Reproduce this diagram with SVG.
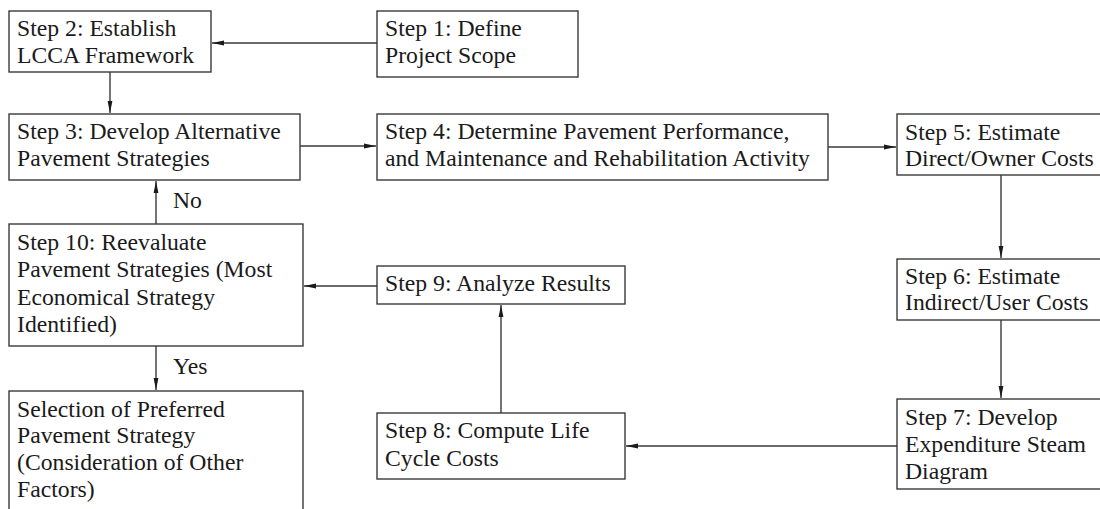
<svg xmlns="http://www.w3.org/2000/svg" width="1100" height="509" viewBox="0 0 1100 509">
<style>
.box{fill:#fff;stroke:#3a3a3a;stroke-width:1.4}
.t{font-family:"Liberation Serif","Times New Roman",Times,"DejaVu Serif",serif;font-size:23.7px;fill:#1a1a1a}
.c{stroke:#3a3a3a;stroke-width:1.4;fill:none;marker-end:url(#ah)}
</style>
<defs>
<marker id="ah" markerWidth="12" markerHeight="6" refX="12" refY="3" orient="auto" markerUnits="userSpaceOnUse">
<path d="M0,0.6 L12,3 L0,5.4 z" fill="#1a1a1a"/>
</marker>
</defs>
<rect width="1100" height="509" fill="#fff"/>
<g id="connectors">
<line class="c" x1="377" y1="43" x2="212" y2="43"/>
<line class="c" x1="110" y1="72" x2="110" y2="113"/>
<line class="c" x1="300" y1="146" x2="376" y2="146"/>
<line class="c" x1="828" y1="147" x2="896" y2="147"/>
<line class="c" x1="1001" y1="175" x2="1001" y2="258"/>
<line class="c" x1="1001" y1="320" x2="1001" y2="398"/>
<line class="c" x1="897" y1="446" x2="626" y2="446"/>
<line class="c" x1="501" y1="413" x2="501" y2="305"/>
<line class="c" x1="377" y1="286" x2="304" y2="286"/>
<line class="c" x1="156" y1="224" x2="156" y2="181"/>
<line class="c" x1="156" y1="346" x2="156" y2="390"/>
<text class="t" x="173" y="208">No</text>
<text class="t" x="173" y="374">Yes</text>
</g>
<g id="step1"><rect class="box" x="377" y="11" width="201" height="66"/>
<text class="t" x="385" y="36">Step 1: Define</text><text class="t" x="385" y="63">Project Scope</text></g>
<g id="step2"><rect class="box" x="9" y="11" width="202" height="61"/>
<text class="t" x="17" y="36">Step 2: Establish</text><text class="t" x="17" y="63">LCCA Framework</text></g>
<g id="step3"><rect class="box" x="9" y="114" width="291" height="66"/>
<text class="t" x="17" y="139">Step 3: Develop Alternative</text><text class="t" x="17" y="166">Pavement Strategies</text></g>
<g id="step4"><rect class="box" x="377" y="114" width="451" height="66"/>
<text class="t" x="385" y="139">Step 4: Determine Pavement Performance,</text><text class="t" x="385" y="166">and Maintenance and Rehabilitation Activity</text></g>
<g id="step5"><rect class="box" x="897" y="114" width="210" height="61"/>
<text class="t" x="905" y="140">Step 5: Estimate</text><text class="t" x="905" y="166">Direct/Owner Costs</text></g>
<g id="step6"><rect class="box" x="897" y="259" width="210" height="61"/>
<text class="t" x="905" y="284">Step 6: Estimate</text><text class="t" x="905" y="310">Indirect/User Costs</text></g>
<g id="step7"><rect class="box" x="897" y="399" width="210" height="90"/>
<text class="t" x="905" y="425">Step 7: Develop</text><text class="t" x="905" y="452">Expenditure Steam</text><text class="t" x="905" y="479">Diagram</text></g>
<g id="step8"><rect class="box" x="377" y="413" width="248" height="66"/>
<text class="t" x="385" y="438">Step 8: Compute Life</text><text class="t" x="385" y="466">Cycle Costs</text></g>
<g id="step9"><rect class="box" x="377" y="266" width="248" height="38"/>
<text class="t" x="385" y="291">Step 9: Analyze Results</text></g>
<g id="step10"><rect class="box" x="9" y="224" width="294" height="122"/>
<text class="t" x="17" y="250">Step 10: Reevaluate</text><text class="t" x="17" y="277">Pavement Strategies (Most</text><text class="t" x="17" y="305">Economical Strategy</text><text class="t" x="17" y="332">Identified)</text></g>
<g id="selection"><rect class="box" x="9" y="391" width="294" height="130"/>
<text class="t" x="17" y="417">Selection of Preferred</text><text class="t" x="17" y="443">Pavement Strategy</text><text class="t" x="17" y="470">(Consideration of Other</text><text class="t" x="17" y="497">Factors)</text></g>
</svg>
